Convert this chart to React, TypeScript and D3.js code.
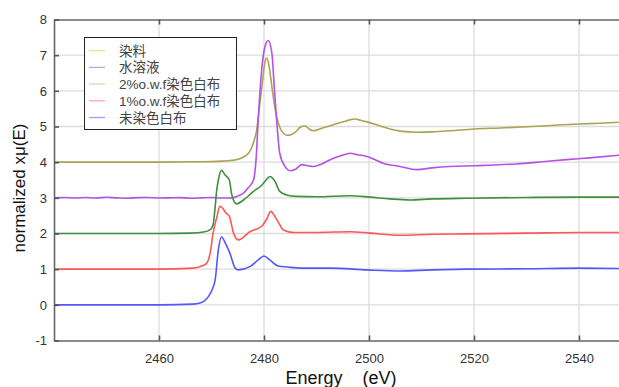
import { useEffect, useRef } from "react";
import * as d3 from "d3";

type Pt = [number, number];

// series names, legend order
const seriesNames = ["染料", "水溶液", "2%o.w.f染色白布", "1%o.w.f染色白布", "未染色白布"];

// [energy eV, normalized xμ(E)]
const dye: Pt[] = [
  [2440, 4.0], [2450, 4.0], [2460, 4.0], [2468, 4.01], [2472, 4.03], [2474, 4.05],
  [2475.5, 4.1], [2476.5, 4.18], [2477.3, 4.3], [2478, 4.55], [2478.6, 4.9], [2479.1, 5.5],
  [2479.6, 6.12], [2480.2, 6.82], [2480.5, 6.92], [2480.9, 6.75], [2481.5, 6.12], [2482, 5.6],
  [2482.4, 5.28], [2483, 4.98], [2483.7, 4.81], [2484.6, 4.75], [2485.8, 4.82], [2486.9, 4.98],
  [2487.8, 5.02], [2488.6, 4.93], [2489.4, 4.88], [2491, 4.95], [2493.2, 5.05], [2495.5, 5.15],
  [2497.3, 5.21], [2498.5, 5.17], [2499.6, 5.13], [2502, 5.02], [2504, 4.93], [2506, 4.87],
  [2509, 4.84], [2512, 4.85], [2515.4, 4.88], [2520, 4.93], [2525, 4.96], [2531, 5.0],
  [2536, 5.04], [2540, 5.07], [2544, 5.09], [2548, 5.12],
];

const solution: Pt[] = [
  [2440, 3.0], [2442, 3.01], [2444, 2.995], [2446, 3.01], [2448, 2.995], [2450, 3.015],
  [2452, 3.0], [2454, 2.99], [2456, 3.005], [2458, 3.01], [2460, 2.995], [2462, 3.0],
  [2464, 3.005], [2466, 2.99], [2468, 3.0], [2470, 3.01], [2472, 2.995], [2474, 3.0],
  [2475, 3.05], [2476.1, 3.13], [2477, 3.28], [2478, 3.5], [2478.5, 4.1], [2478.9, 5.19],
  [2479.56, 6.59], [2480.2, 7.25], [2480.8, 7.41], [2481.5, 7.06], [2482, 6.0], [2482.4, 5.19],
  [2483, 4.25], [2484, 3.88], [2485, 3.76], [2486, 3.8], [2487.2, 3.93], [2488.3, 3.9],
  [2489.4, 3.88], [2491, 3.95], [2492.6, 4.07], [2494.5, 4.17], [2496.4, 4.25], [2497.7, 4.21],
  [2499.6, 4.16], [2501, 4.08], [2502.7, 3.97], [2505.9, 3.88], [2509.1, 3.79], [2512, 3.84],
  [2515.4, 3.88], [2520, 3.9], [2524, 3.92], [2528, 3.95], [2533, 4.01], [2537.6, 4.07],
  [2542, 4.12], [2548, 4.2],
];

const cloth2: Pt[] = [
  [2440, 2.0], [2450, 2.0], [2460, 2.0], [2466, 2.01], [2468.5, 2.04], [2469.7, 2.1],
  [2470.3, 2.24], [2470.6, 2.6], [2471, 3.22], [2471.3, 3.5], [2471.9, 3.77], [2472.6, 3.64],
  [2473.4, 3.5], [2473.8, 3.13], [2474.3, 2.9], [2474.8, 2.83], [2476.1, 2.94], [2478, 3.18],
  [2479.6, 3.36], [2480.4, 3.5], [2481.1, 3.6], [2482.1, 3.46], [2483, 3.18], [2484.3, 3.08],
  [2486.2, 3.04], [2490, 3.03], [2496.4, 3.06], [2500.2, 3.02], [2504, 2.97], [2507.8, 2.94],
  [2512, 2.97], [2518.6, 2.99], [2530, 3.01], [2540, 3.02], [2548, 3.02],
];

const cloth1: Pt[] = [
  [2440, 1.0], [2450, 1.0], [2460, 1.0], [2466.5, 1.03], [2468, 1.08], [2469.1, 1.17],
  [2469.8, 1.5], [2470.3, 2.01], [2471, 2.45], [2471.6, 2.76], [2471.9, 2.74], [2472.8, 2.57],
  [2473.4, 2.48], [2474.2, 2.01], [2475.1, 1.82], [2477.3, 2.05], [2479.6, 2.21], [2480.5, 2.4],
  [2481.3, 2.62], [2482, 2.5], [2482.8, 2.3], [2483.7, 2.1], [2485.6, 2.03], [2490, 2.03],
  [2496.4, 2.05], [2500.2, 2.01], [2505.9, 1.95], [2512, 1.98], [2518.6, 1.99], [2530, 2.01],
  [2540, 2.03], [2548, 2.03],
];

const undyed: Pt[] = [
  [2440, 0.0], [2450, 0.0], [2460, 0.0], [2466.5, 0.02], [2467.8, 0.05], [2469.4, 0.23],
  [2470.2, 0.45], [2470.7, 0.7], [2471.3, 1.54], [2471.9, 1.9], [2472.8, 1.68], [2473.5, 1.45],
  [2474.5, 1.03], [2475.1, 0.98], [2477.3, 1.07], [2478.9, 1.26], [2480, 1.37], [2481.1, 1.26],
  [2482.7, 1.09], [2484.5, 1.06], [2487, 1.03], [2492.7, 1.03], [2499.6, 0.98], [2505.9, 0.95],
  [2512, 0.98], [2518.6, 1.0], [2530, 1.01], [2540, 1.03], [2548, 1.02],
];

const seriesData = [dye, solution, cloth2, cloth1, undyed];
const lineColors = ["#aba356", "#b651e8", "#3f8f3f", "#ff5656", "#5656ff"];
const legendColors = ["#e8e688", "#b8a4de", "#c0e4b0", "#ffa8a8", "#9c9cff"];

const xTicks = [2460, 2480, 2500, 2520, 2540];
const yTicks = [-1, 0, 1, 2, 3, 4, 5, 6, 7, 8];

export default function App() {
  const svgRef = useRef<SVGSVGElement>(null);

  useEffect(() => {
    if (!svgRef.current) return;
    const svg = d3.select(svgRef.current);
    svg.selectAll("*").remove();

    const left = 54;
    const top = 19.5;
    const bottom = 340.5;
    const right = 621;
    const font = "'Liberation Sans', Arial, sans-serif";

    const x = d3.scaleLinear().domain([2440, 2548]).range([left, right]);
    const y = d3.scaleLinear().domain([-1, 8]).range([bottom, top]);

    svg
      .append("defs")
      .append("clipPath")
      .attr("id", "plot-clip")
      .append("rect")
      .attr("x", left)
      .attr("y", top)
      .attr("width", right - left)
      .attr("height", bottom - top);

    // grid
    const grid = svg.append("g").attr("stroke", "#dcdcdc").attr("stroke-width", 1.3);
    grid
      .selectAll("line.h")
      .data(yTicks.slice(1, -1))
      .join("line")
      .attr("x1", left)
      .attr("x2", right)
      .attr("y1", (d) => y(d))
      .attr("y2", (d) => y(d));
    grid
      .selectAll("line.v")
      .data(xTicks)
      .join("line")
      .attr("x1", (d) => x(d))
      .attr("x2", (d) => x(d))
      .attr("y1", top)
      .attr("y2", bottom);

    // curves
    const line = d3
      .line<Pt>()
      .x((d) => x(d[0]))
      .y((d) => y(d[1]))
      .curve(d3.curveMonotoneX);

    const curves = svg.append("g").attr("clip-path", "url(#plot-clip)");
    seriesData.forEach((data, i) => {
      curves
        .append("path")
        .datum(data)
        .attr("fill", "none")
        .attr("stroke", lineColors[i])
        .attr("stroke-width", 1.6)
        .attr("stroke-linejoin", "round")
        .attr("d", line);
    });

    // axes
    const styleAxis = (g: d3.Selection<SVGGElement, unknown, null, undefined>) => {
      g.select(".domain").attr("stroke", "#666").attr("stroke-width", 1.6);
      g.selectAll(".tick line").attr("stroke", "#555").attr("stroke-width", 1.6);
      g.selectAll(".tick text")
        .attr("fill", "#333")
        .style("font-family", font)
        .style("font-size", "13px");
    };

    const plain = (d: d3.NumberValue) => String(d);

    svg
      .append("g")
      .attr("transform", `translate(0,${bottom})`)
      .call(d3.axisBottom(x).tickValues(xTicks).tickSizeInner(-5).tickSizeOuter(0).tickPadding(13).tickFormat(plain))
      .call(styleAxis);

    svg
      .append("g")
      .attr("transform", `translate(0,${top})`)
      .call(d3.axisTop(x).tickValues(xTicks).tickSizeInner(-5).tickSizeOuter(0).tickFormat(() => ""))
      .call(styleAxis);

    svg
      .append("g")
      .attr("transform", `translate(${left},0)`)
      .call(d3.axisLeft(y).tickValues(yTicks).tickSizeInner(-5).tickSizeOuter(0).tickPadding(7).tickFormat(plain))
      .call(styleAxis);

    // axis titles
    svg
      .append("text")
      .attr("x", 341)
      .attr("y", 384)
      .attr("text-anchor", "middle")
      .attr("fill", "#111")
      .style("font-family", font)
      .style("font-size", "18px")
      .style("white-space", "pre")
      .text("Energy    (eV)");

    svg
      .append("text")
      .attr("transform", `translate(25,188) rotate(-90)`)
      .attr("text-anchor", "middle")
      .attr("fill", "#111")
      .style("font-family", font)
      .style("font-size", "17px")
      .text("normalized xμ(E)");

    // legend
    const legend = svg.append("g");
    legend
      .append("rect")
      .attr("x", 84.5)
      .attr("y", 37.5)
      .attr("width", 152)
      .attr("height", 92)
      .attr("fill", "#fff")
      .attr("stroke", "#222")
      .attr("stroke-width", 1);

    seriesNames.forEach((name, i) => {
      const cy = 50.7 + i * 16.7;
      legend
        .append("line")
        .attr("x1", 89)
        .attr("x2", 105)
        .attr("y1", cy)
        .attr("y2", cy)
        .attr("stroke", legendColors[i])
        .attr("stroke-width", 1.3);
      legend
        .append("text")
        .attr("x", 119)
        .attr("y", cy + 5)
        .attr("fill", "#444")
        .style("font-family", "'Liberation Sans', 'Noto Sans CJK JP', sans-serif")
        .style("font-size", "13.5px")
        .text(name);
    });
  }, []);

  return (
    <svg
      ref={svgRef}
      width={619}
      height={387}
      viewBox="0 0 619 387"
      style={{ position: "absolute", left: 0, top: 0, background: "#fff" }}
    />
  );
}
